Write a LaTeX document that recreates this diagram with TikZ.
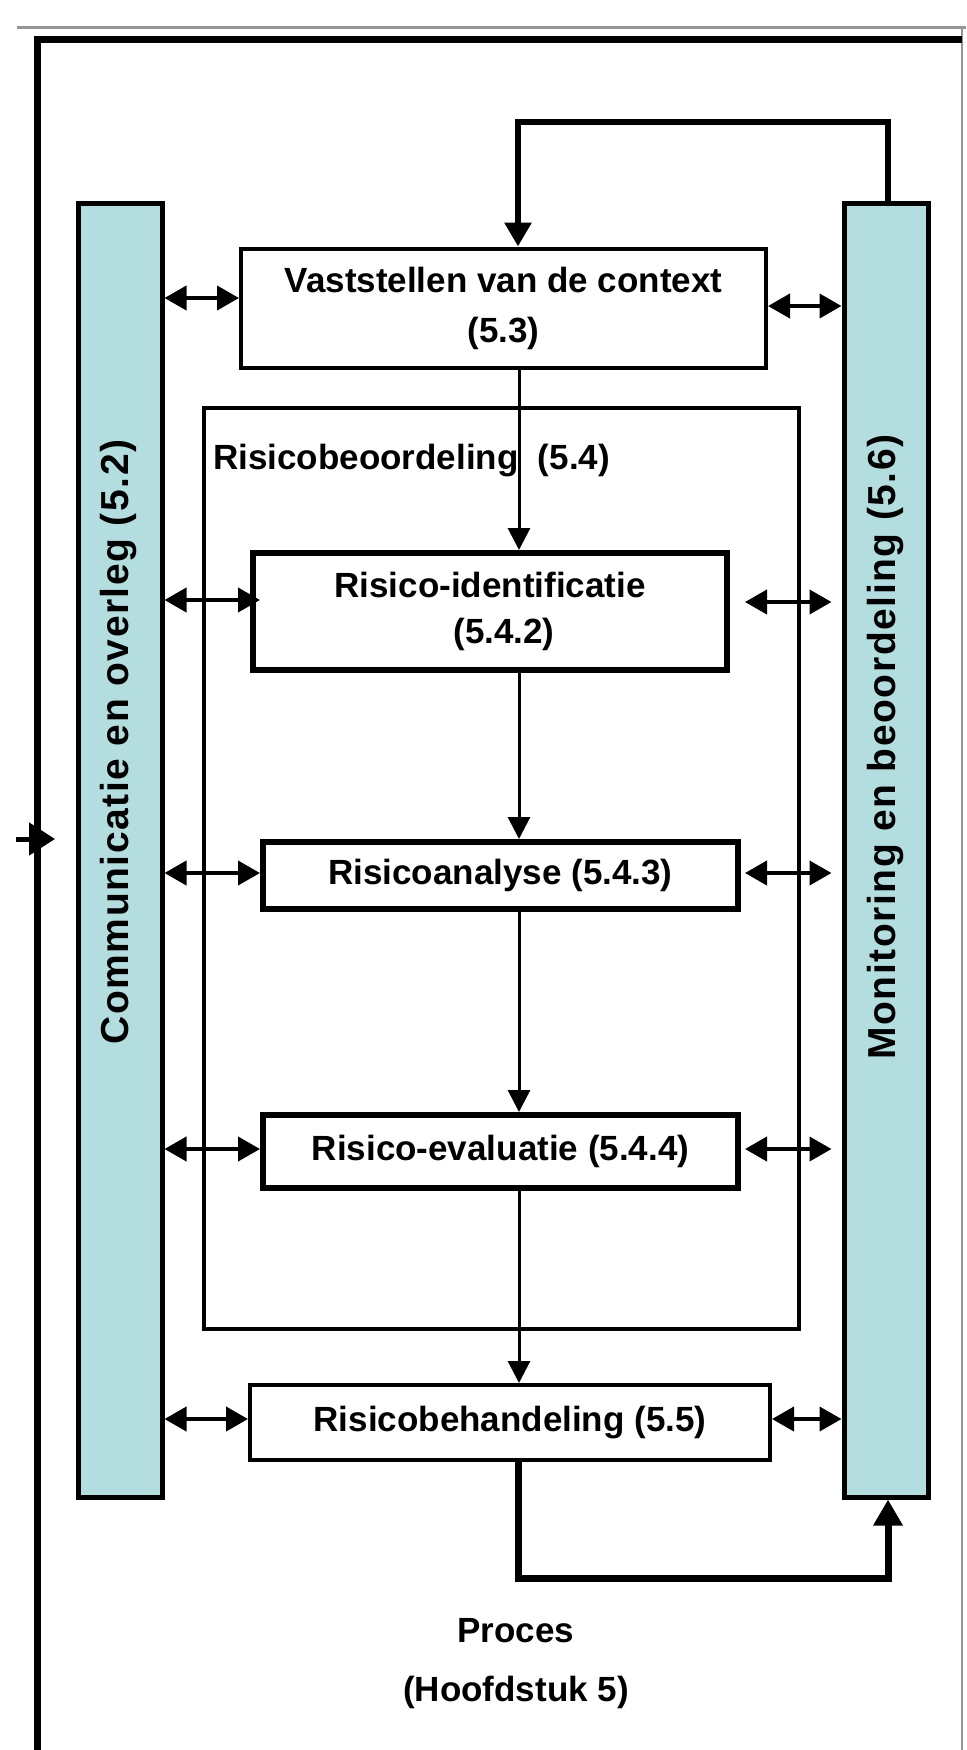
\documentclass[tikz,border=0pt]{standalone}
\usepackage{fontspec}
\setmainfont{Liberation Sans}
\usetikzlibrary{arrows.meta}
\definecolor{barteal}{RGB}{180,221,224}
\definecolor{framegray}{RGB}{150,150,150}
\tikzset{
  procbox/.style={draw, line width=4pt, fill=white, inner sep=0pt, align=center,
    font=\fontsize{35}{44}\selectfont\bfseries},
  thickbox/.style={procbox, line width=6pt},
  groupbox/.style={draw, line width=4pt, inner sep=0pt},
  sidebar/.style={draw, line width=5pt, fill=barteal, inner sep=0pt},
  barlabel/.style={rotate=90, font=\fontsize{39}{46}\selectfont\bfseries\addfontfeatures{LetterSpace=4}},
  plainlabel/.style={font=\fontsize{35}{44}\selectfont\bfseries, inner sep=0pt},
  dbl/.style={line width=4pt, {Triangle[length=22pt,width=24pt]}-{Triangle[length=22pt,width=24pt]}},
  flow/.style={line width=3pt, -{Triangle[length=22pt,width=22pt]}},
  loopline/.style={line width=7pt, -{Triangle[length=26pt,width=28pt]}},
}
\begin{document}
\begin{tikzpicture}[x=1pt, y=-1pt]
\useasboundingbox[fill=white] (0,0) rectangle (966,1750);
% outer frame
\draw[framegray, line width=3pt] (17,28) -- (966,28);
\draw[framegray, line width=2pt] (962,28) -- (962,1750);
\draw[line width=7pt] (37,1750) -- (37,40) -- (962,40);
% incoming arrow on the frame
\coordinate (inA) at (16,839);
\coordinate (inB) at (55,839);
\draw[line width=5pt, -{Triangle[length=26pt,width=32pt]}] (inA) -- (inB);

% side bars
\node[sidebar, minimum width=84pt, minimum height=1294pt] (comm) at (120,850) {};
\node[sidebar, minimum width=84pt, minimum height=1294pt] (mon) at (886,850) {};
\node[barlabel] (commlab) at (119,742) {Communicatie en overleg (5.2)};
\node[barlabel] (monlab) at (885,747) {Monitoring en beoordeling (5.6)};

% group box
\node[groupbox, minimum width=595pt, minimum height=921pt] (beoord) at (501.5,868.5) {};
\node[plainlabel, anchor=west] (beoordlab) at (213,461) {Risicobeoordeling\ \ (5.4)};

% process boxes
\node[procbox, minimum width=525pt, minimum height=119pt] (vast) at (503.5,308)
  {Vaststellen van de context\\[6pt](5.3)};
\node[thickbox, minimum width=474pt, minimum height=117pt] (ident) at (490,611.5)
  {Risico-identificatie\\[2pt]\hspace*{28pt}(5.4.2)};
\node[thickbox, minimum width=475pt, minimum height=67pt] (anal) at (500.5,875.5)
  {Risicoanalyse (5.4.3)};
\node[thickbox, minimum width=475pt, minimum height=73pt] (eval) at (500.5,1151.5)
  {Risico-evaluatie (5.4.4)};
\node[procbox, minimum width=520pt, minimum height=75pt] (behand) at (510,1422.5)
  {Risicobehandeling (5.5)};

\node[plainlabel] (proces) at (516,1631) {Proces};
\node[plainlabel] (hoofd) at (516,1692) {(Hoofdstuk 5)};

% vertical flow
\coordinate (fl) at (519,0);
\draw[flow] (vast.south -| fl) -- (ident.north -| fl);
\draw[flow] (ident.south -| fl) -- (anal.north -| fl);
\draw[flow] (anal.south -| fl) -- (eval.north -| fl);
\draw[flow] (eval.south -| fl) -- (behand.north -| fl);

% feedback loops
\coordinate (tl) at (518,122);
\coordinate (tr) at (888,122);
\draw[line width=6pt, -{Triangle[length=24pt,width=26pt]}] (mon.north -| tr) -- (tr) -- (tl) -- (vast.north -| tl);
\coordinate (bl) at (518,1578);
\coordinate (br) at (888,1578);
\draw[loopline] (behand.south -| bl) -- (bl) -- (br) -- (mon.south -| br);

% row arrows
\coordinate (r1l) at (0,298);
\coordinate (r1r) at (0,306);
\coordinate (r2l) at (0,600);
\coordinate (r2r) at (0,602);
\coordinate (r3) at (0,873);
\coordinate (r4) at (0,1149);
\coordinate (r5) at (0,1419);
\draw[dbl] (comm.east |- r1l) -- (vast.west |- r1l);
\draw[dbl] (vast.east |- r1r) -- (mon.west |- r1r);
\draw[dbl, shorten >=-10pt] (comm.east |- r2l) -- (ident.west |- r2l);
\draw[dbl, shorten <=15pt, shorten >=10pt] (ident.east |- r2r) -- (mon.west |- r2r);
\draw[dbl] (comm.east |- r3) -- (anal.west |- r3);
\draw[dbl, shorten <=4pt, shorten >=10pt] (anal.east |- r3) -- (mon.west |- r3);
\draw[dbl] (comm.east |- r4) -- (eval.west |- r4);
\draw[dbl, shorten <=4pt, shorten >=10pt] (eval.east |- r4) -- (mon.west |- r4);
\draw[dbl] (comm.east |- r5) -- (behand.west |- r5);
\draw[dbl] (behand.east |- r5) -- (mon.west |- r5);
\end{tikzpicture}
\end{document}
